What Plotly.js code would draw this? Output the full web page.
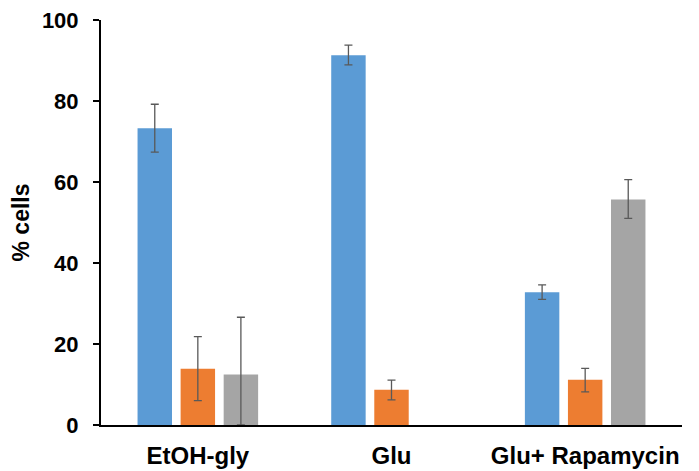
<!DOCTYPE html>
<html>
<head>
<meta charset="utf-8">
<script src="https://cdn.plot.ly/plotly-3.0.1.min.js"></script>
<style>html,body{margin:0;padding:0;background:#fff;}#chart{width:699px;height:471px;}</style>
</head>
<body>
<div id="chart"></div>
<script>
const categories = ["EtOH-gly", "Glu", "Glu+ Rapamycin"];
const seriesA = [73.3, 91.3, 32.8];
const seriesAErrPlus = [5.9, 2.5, 1.8];
const seriesAErrMinus = [5.9, 2.4, 1.8];
const seriesB = [13.9, 8.7, 11.2];
const seriesBErrPlus = [7.9, 2.4, 2.8];
const seriesBErrMinus = [7.9, 2.5, 3.0];
const seriesC = [12.5, null, 55.7];
const seriesCErrPlus = [14.1, null, 4.9];
const seriesCErrMinus = [12.5, null, 4.7];
const yTicks = [0, 20, 40, 60, 80, 100];

const font = "Liberation Sans, Arial, sans-serif";
function errStyle(plus, minus) {
  return {type: "data", symmetric: false, array: plus, arrayminus: minus,
          color: "#595959", thickness: 1.3, width: 4};
}
const traces = [
  {type: "bar", name: "A", x: categories, y: seriesA, marker: {color: "#5B9BD5"},
   error_y: errStyle(seriesAErrPlus, seriesAErrMinus)},
  {type: "bar", name: "B", x: categories, y: seriesB, marker: {color: "#ED7D31"},
   error_y: errStyle(seriesBErrPlus, seriesBErrMinus)},
  {type: "bar", name: "C", x: categories, y: seriesC, marker: {color: "#A5A5A5"},
   error_y: errStyle(seriesCErrPlus, seriesCErrMinus)}
];
const layout = {
  width: 699, height: 471,
  margin: {l: 101, r: 17, t: 20, b: 46, pad: 0},
  paper_bgcolor: "#fff", plot_bgcolor: "#fff",
  showlegend: false,
  barmode: "group",
  bargap: 0.333,
  bargroupgap: 0.2,
  font: {family: font, color: "#000"},
  xaxis: {
    showline: true, linecolor: "#000", linewidth: 2,
    ticks: "", showgrid: false, zeroline: false,
    ticklabelstandoff: 8,
    tickfont: {family: font, size: 24, weight: "bold", color: "#000"}
  },
  yaxis: {
    range: [0, 100], tickvals: yTicks, ticktext: yTicks.map(String),
    showline: true, linecolor: "#000", linewidth: 2,
    ticks: "outside", ticklen: 6, tickwidth: 2, tickcolor: "#000",
    showgrid: false, zeroline: false,
    ticklabelstandoff: 10,
    tickfont: {family: font, size: 22, weight: "bold", color: "#000"},
    title: {text: "% cells", font: {family: font, size: 23, weight: "bold", color: "#000"}, standoff: 6}
  }
};
Plotly.newPlot("chart", traces, layout, {displayModeBar: false, staticPlot: true});
</script>
</body>
</html>
